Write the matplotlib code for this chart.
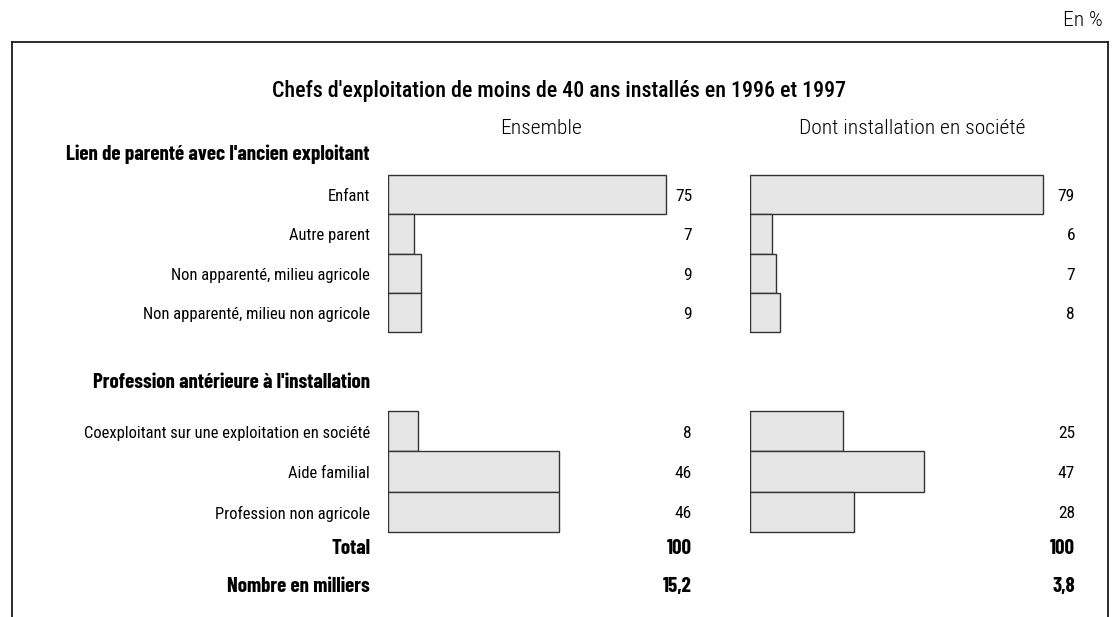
import matplotlib
matplotlib.use("Agg")
import matplotlib.pyplot as plt
from matplotlib.lines import Line2D

# --- data ---
section_1 = "Lien de parenté avec l'ancien exploitant"
labels_1 = ["Enfant", "Autre parent", "Non apparenté, milieu agricole",
            "Non apparenté, milieu non agricole"]
ensemble_1 = [75, 7, 9, 9]
societe_1 = [79, 6, 7, 8]

section_2 = "Profession antérieure à l'installation"
labels_2 = ["Coexploitant sur une exploitation en société", "Aide familial",
            "Profession non agricole"]
ensemble_2 = [8, 46, 46]
societe_2 = [25, 47, 28]

total_labels = ["Total", "Nombre en milliers"]
total_ensemble = ["100", "15,2"]
total_societe = ["100", "3,8"]

col_titles = ["Ensemble", "Dont installation en société"]
title = "Chefs d'exploitation de moins de 40 ans installés en 1996 et 1997"

W, H = 1120, 617
COND = ["Roboto Condensed", "DejaVu Sans"]
BOLD = ["Barlow Condensed", "Roboto Condensed", "DejaVu Sans"]

fig = plt.figure(figsize=(W / 100, H / 100), dpi=100)
bg = fig.add_axes([0, 0, 1, 1])
bg.set_xlim(0, W)
bg.set_ylim(H, 0)
bg.axis("off")
renderer = fig.canvas.get_renderer()


def fit_size(text, target_px, **kw):
    """font size (pt) so that text is about target_px wide"""
    t = fig.text(0, 0, text, fontsize=10, **kw)
    w = t.get_window_extent(renderer).width
    t.remove()
    return 10 * target_px / w


# frame (open at bottom)
for xs, ys in [([12, 12], [42, H]), ([12, 1108], [42, 42]), ([1108, 1108], [42, H])]:
    bg.add_line(Line2D(xs, ys, color="#1a1a1a", lw=1.3))

title_kw = dict(family=COND, fontweight="medium")
bg.text(559, 91, title, ha="center", va="center",
        fontsize=fit_size(title, 572, **title_kw), **title_kw)

head_kw = dict(family=COND, fontweight="light")
head_fs = fit_size(col_titles[1], 226, **head_kw)
bg.text(541, 129, col_titles[0], ha="center", va="center", fontsize=head_fs, **head_kw)
bg.text(912, 129, col_titles[1], ha="center", va="center", fontsize=head_fs, **head_kw)
bg.text(1103, 20, "En %", ha="right", va="center", fontsize=head_fs, **head_kw)

# row layout in pixels
row_h1, row_h2 = 39.3, 40.4
y1 = [175 + row_h1 * (i + 0.5) for i in range(len(labels_1))]
y2 = [411 + row_h2 * (i + 0.5) for i in range(len(labels_2))]
y_tot = [548, 587]

scale = 3.71  # px per percentage point
left0, right0 = 388, 750
ax_l = fig.add_axes([left0 / W, 0, 320 / W, 1])
ax_r = fig.add_axes([right0 / W, 0, 340 / W, 1])
for ax, width in [(ax_l, 320), (ax_r, 340)]:
    ax.set_xlim(0, width / scale)
    ax.set_ylim(H, 0)
    ax.axis("off")
    ax.patch.set_alpha(0)

bar_kw = dict(color="#e6e6e6", edgecolor="#333333", linewidth=1.0)
ax_l.barh(y1, ensemble_1, height=row_h1, **bar_kw)
ax_r.barh(y1, societe_1, height=row_h1, **bar_kw)
ax_l.barh(y2, ensemble_2, height=row_h2, **bar_kw)
ax_r.barh(y2, societe_2, height=row_h2, **bar_kw)

sec_kw = dict(family=BOLD, fontweight="bold")
sec_fs = fit_size(section_1, 302, **sec_kw)
bg.text(370, 154, section_1, ha="right", va="center", fontsize=sec_fs, **sec_kw)
bg.text(370, 383, section_2, ha="right", va="center", fontsize=sec_fs, **sec_kw)

row_kw = dict(family=COND)
row_fs = fit_size(labels_2[0], 284, **row_kw)
for labels, ys, ve, vs in [(labels_1, y1, ensemble_1, societe_1),
                           (labels_2, y2, ensemble_2, societe_2)]:
    for lab, y, a, b in zip(labels, ys, ve, vs):
        bg.text(370, y + 2, lab, ha="right", va="center", fontsize=row_fs, **row_kw)
        bg.text(692, y + 2, str(a), ha="right", va="center", fontsize=row_fs * 1.05, **row_kw)
        bg.text(1075, y + 2, str(b), ha="right", va="center", fontsize=row_fs * 1.05, **row_kw)

for lab, y, a, b in zip(total_labels, y_tot, total_ensemble, total_societe):
    kw = dict(ha="right", va="center", fontsize=sec_fs, **sec_kw)
    bg.text(370, y, lab, **kw)
    bg.text(692, y, a, **kw)
    bg.text(1075, y, b, **kw)

fig.savefig("out.png", dpi=100)
